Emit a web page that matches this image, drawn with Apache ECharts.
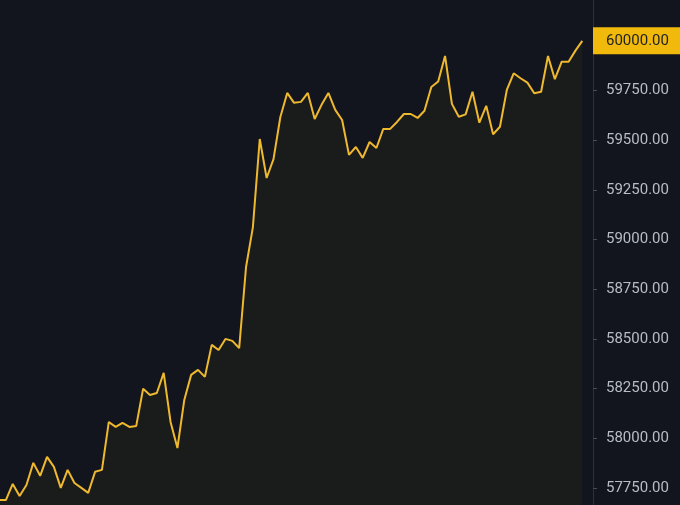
<!DOCTYPE html>
<html>
<head>
<meta charset="utf-8">
<script src="https://cdn.jsdelivr.net/npm/echarts@6/dist/echarts.min.js"></script>
<style>
html,body{margin:0;padding:0;background:#12151d;}
#chart{width:680px;height:505px;}
</style>
</head>
<body>
<div id="chart"></div>
<script>
// Price values (one per step, left to right)
const prices = [
  57689, 57689, 57770, 57709, 57765, 57876, 57811, 57906, 57856, 57750,
  57841, 57775, 57750, 57725, 57831, 57841, 58082, 58057, 58077, 58057,
  58062, 58249, 58218, 58228, 58329, 58082, 57951, 58193, 58319, 58344,
  58309, 58470, 58444, 58500, 58490, 58454, 58862, 59063, 59506, 59310,
  59405, 59617, 59738, 59688, 59693, 59738, 59607, 59678, 59738, 59653,
  59602, 59426, 59466, 59411, 59491, 59461, 59557, 59557, 59592, 59632,
  59632, 59612, 59648, 59768, 59796, 59924, 59683, 59618, 59630, 59744,
  59588, 59673, 59530, 59568, 59753, 59837, 59812, 59790, 59736, 59744,
  59924, 59807, 59895, 59895, 59951, 60000
];
const categories = prices.map((_, i) => String(i));
const highlightValue = 60000;
const yMin = 57500, yMax = 60250, yStep = 250;

const chart = echarts.init(document.getElementById('chart'), null, {renderer: 'canvas'});
chart.setOption({
  backgroundColor: '#12151d',
  animation: false,
  grid: {left: -1, right: 97.7, top: -8.8, bottom: -32.6, containLabel: false, outerBoundsMode: 'none'},
  xAxis: {
    type: 'category',
    data: categories,
    boundaryGap: false,
    show: false
  },
  yAxis: {
    type: 'value',
    position: 'right',
    offset: 10.7,
    min: yMin, max: yMax, interval: yStep,
    splitLine: {show: false},
    axisLine: {show: true, lineStyle: {color: '#2b3039', width: 1}},
    axisTick: {show: true, length: 4, lineStyle: {color: '#474d57'}},
    axisLabel: {
      margin: 0,
      formatter: function (v) {
        const s = v.toFixed(2);
        return v === highlightValue ? '{hl|' + s + '}' : '{n|' + s + '}';
      },
      rich: {
        n: {color: '#b7bdc6', fontFamily: 'Roboto', fontSize: 15, padding: [0, 0, 0, 13]},
        hl: {color: '#1e2026', fontFamily: 'Roboto', fontSize: 15, backgroundColor: '#f0b90b',
             padding: [6, 20, 6, 13], lineHeight: 15}
      }
    }
  },
  series: [{
    type: 'line',
    data: prices,
    symbol: 'none',
    lineStyle: {color: '#efb92f', width: 2},
    areaStyle: {color: 'rgba(240,185,11,0.055)'}
  }]
});
</script>
</body>
</html>
